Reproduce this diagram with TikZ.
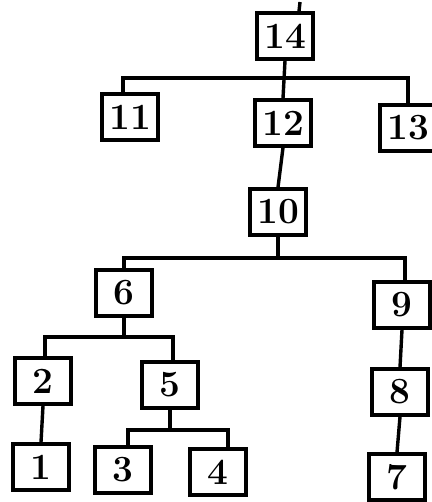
\documentclass[tikz,border=0pt]{standalone}
\begin{document}
\begin{tikzpicture}[x=1pt,y=-1pt,
  box/.style={draw,line width=3.4pt,minimum width=56pt,minimum height=46pt,inner sep=0pt,
    font=\fontsize{37}{37}\selectfont\bfseries},
  conn/.style={line width=3.4pt}]
\useasboundingbox (0,0) rectangle (431,502);
\node[box] (n14) at (285,36) {14};
\node[box] (n11) at (130,117) {11};
\node[box] (n12) at (283,123) {12};
\node[box] (n13) at (408,128) {13};
\node[box] (n10) at (278,212) {10};
\node[box] (n6) at (124,293) {6};
\node[box] (n9) at (402,305) {9};
\node[box] (n2) at (43,381) {2};
\node[box] (n5) at (170,385) {5};
\node[box] (n8) at (400,392) {8};
\node[box] (n1) at (41,467) {1};
\node[box] (n3) at (123,470) {3};
\node[box] (n4) at (218,472) {4};
\node[box] (n7) at (397,477) {7};
% stub above 14
\coordinate (top) at (300,2);
\draw[conn] ([xshift=14pt]n14.north) -- (top);
% 14 -> 11,12,13
\coordinate (b1) at (284,78);
\draw[conn] (n14.south) -- (n12.north);
\draw[conn] ([xshift=-7pt]n11.north) |- (b1) -| (n13.north);
% 12 -> 10
\draw[conn] (n12.south) -- (n10.north);
% 10 -> 6, 9
\coordinate (b2) at (278,258);
\draw[conn] (n10.south) -- (b2);
\draw[conn] (n6.north) |- (b2) -| ([xshift=3pt]n9.north);
% 6 -> 2, 5
\coordinate (b3) at (124,337);
\draw[conn] (n6.south) -- (b3);
\draw[conn] ([xshift=2pt]n2.north) |- (b3) -| ([xshift=3pt]n5.north);
% 2 -> 1
\draw[conn] (n2.south) -- (n1.north);
% 5 -> 3, 4
\coordinate (b4) at (170,430);
\draw[conn] (n5.south) -- (b4);
\draw[conn] ([xshift=5pt]n3.north) |- (b4) -| ([xshift=10pt]n4.north);
% 9 -> 8 -> 7
\draw[conn] (n9.south) -- (n8.north);
\draw[conn] (n8.south) -- (n7.north);
\end{tikzpicture}
\end{document}
